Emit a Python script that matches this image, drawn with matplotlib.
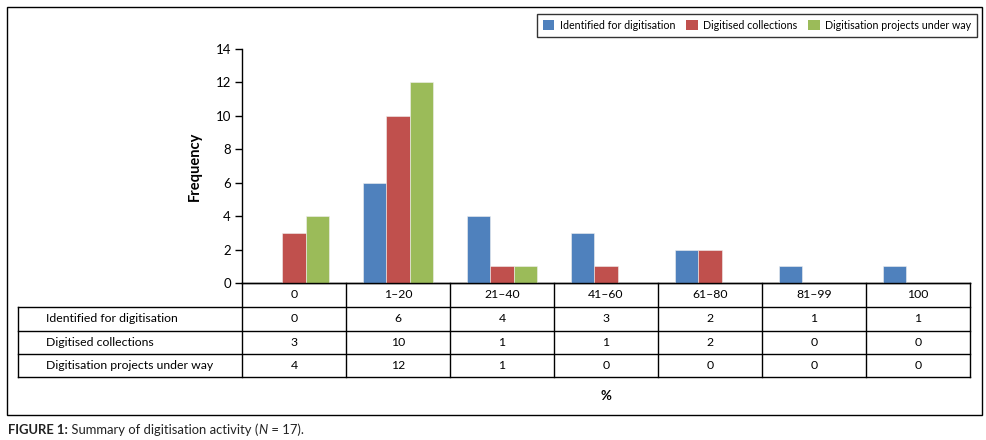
import matplotlib.pyplot as plt
import numpy as np
from matplotlib.patches import Rectangle, Patch

plt.rcParams['font.family'] = ['Lato', 'DejaVu Sans']

categories = ["0", "1\u201320", "21\u201340", "41\u201360", "61\u201380", "81\u201399", "100"]
series_names = ["Identified for digitisation", "Digitised collections",
                "Digitisation projects under way"]
identified = [0, 6, 4, 3, 2, 1, 1]
digitised = [3, 10, 1, 1, 2, 0, 0]
under_way = [4, 12, 1, 0, 0, 0, 0]
series = [identified, digitised, under_way]
colors = ["#4F81BD", "#C0504D", "#9BBB59"]

W, H = 986, 440
fig = plt.figure(figsize=(W / 100, H / 100), dpi=100)

# pixel-coordinate overlay for frame, table and caption
bg = fig.add_axes([0, 0, 1, 1])
bg.set_xlim(0, W)
bg.set_ylim(H, 0)
bg.axis("off")

# outer frame
bg.add_patch(Rectangle((7, 7), 975, 408, fill=False, edgecolor="black", lw=1))

# bar axes, in pixels
ax_l, ax_r, ax_t, ax_b = 242, 970, 49, 283
ax = fig.add_axes([ax_l / W, 1 - ax_b / H, (ax_r - ax_l) / W, (ax_b - ax_t) / H])
x = np.arange(len(categories))
w = 0.225
for i, (vals, c) in enumerate(zip(series, colors)):
    ax.bar(x + (i - 1) * w, vals, width=w, color=c, edgecolor="#f0f0f0", lw=0.4, zorder=2)
ax.set_xlim(-0.5, len(categories) - 0.5)
ax.set_ylim(0, 14)
ax.set_yticks(range(0, 15, 2))
ax.set_xticks([])
ax.spines[["top", "right"]].set_visible(False)
ax.spines["left"].set_linewidth(1)
ax.spines["bottom"].set_linewidth(1)
ax.tick_params(axis="y", direction="out", length=5, width=1, labelsize=9.5, pad=3)
ax.set_ylabel("Frequency", fontsize=10.5, fontweight="bold", labelpad=10)
ax.patch.set_alpha(0)

# data table below the bars
col_w = (ax_r - ax_l) / len(categories)
row_lines = [ax_b, 307, 331, 354, 377]
tab_l = 18
lk = dict(color="black", lw=1)
bg.plot([ax_l, ax_r], [row_lines[0], row_lines[0]], **lk)
for y in row_lines[1:]:
    bg.plot([tab_l, ax_r], [y, y], **lk)
for j in range(len(categories) + 1):
    xx = ax_l + j * col_w
    bg.plot([xx, xx], [row_lines[0], row_lines[-1]], **lk)
bg.plot([tab_l, tab_l], [row_lines[1], row_lines[-1]], **lk)

fs = 8.8
for j, cat in enumerate(categories):
    cx = ax_l + (j + 0.5) * col_w
    bg.text(cx, (row_lines[0] + row_lines[1]) / 2, cat, ha="center", va="center", fontsize=fs)
for r, (name, vals) in enumerate(zip(series_names, series)):
    cy = (row_lines[r + 1] + row_lines[r + 2]) / 2
    bg.text(46, cy, name, ha="left", va="center", fontsize=fs)
    for j, v in enumerate(vals):
        cx = ax_l + (j + 0.5) * col_w
        bg.text(cx, cy, str(v), ha="center", va="center", fontsize=fs)

bg.text(606, 396, "%", ha="center", va="center", fontsize=9.5, fontweight="bold")

# legend
handles = [Patch(facecolor=c, edgecolor="none") for c in colors]
leg = fig.legend(handles, series_names, ncol=3, loc="upper right",
                 bbox_to_anchor=(977 / W, 1 - 14 / H), fontsize=7.7,
                 frameon=True, fancybox=False, edgecolor="black",
                 handlelength=1.1, handleheight=1.1, handletextpad=0.5,
                 columnspacing=1.0, borderpad=0.55, borderaxespad=0)
leg.get_frame().set_linewidth(1)

# caption: bold label then normal text with italic N
fig.canvas.draw()
rend = fig.canvas.get_renderer()
cap_y = 1 - 430 / H
parts = [("FIGURE 1:", "bold", "normal"), (" Summary of digitisation activity (", "normal", "normal"),
         ("N", "normal", "italic"), (" = 17).", "normal", "normal")]
cx = 8 / W
for txt, wt, st in parts:
    t = fig.text(cx, cap_y, txt, fontsize=9.4, fontweight=wt, fontstyle=st,
                 ha="left", va="center", color="#222222")
    bb = t.get_window_extent(renderer=rend)
    cx = bb.x1 / W

fig.savefig("out.png", dpi=100)
